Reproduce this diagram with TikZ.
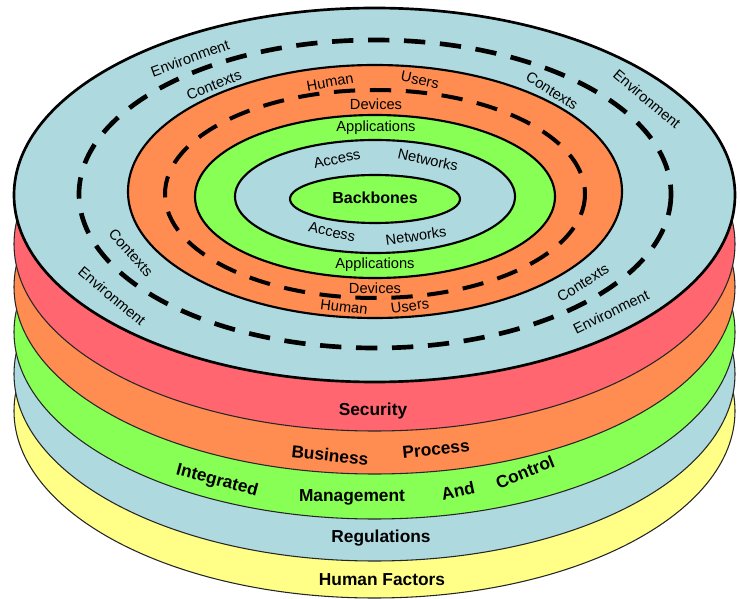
\documentclass[tikz,border=0pt]{standalone}
\usepackage{fontspec}
\setmainfont{Liberation Sans}

\definecolor{layerblue}{RGB}{174,217,222}
\definecolor{layerred}{RGB}{255,102,112}
\definecolor{layerorange}{RGB}{255,140,80}
\definecolor{layergreen}{RGB}{136,255,85}
\definecolor{layeryellow}{RGB}{255,255,136}

\tikzset{
  disc/.style={draw=black!85, line width=0.8pt},
  ring/.style={draw=black, line width=1.6pt},
  dashring/.style={draw=black, line width=3.5pt, dash pattern=on 16pt off 11pt},
  toplabel/.style={font=\fontsize{11}{13}\selectfont, inner sep=0pt},
  layerlabel/.style={font=\bfseries\fontsize{13}{15}\selectfont, inner sep=0pt}
}

\begin{document}
\begin{tikzpicture}[x=0.75pt, y=-0.75pt]
\useasboundingbox (0,0) rectangle (740,599);

\foreach \yc/\col in {411/layeryellow, 374/layerblue, 332/layergreen, 287/layerorange, 244/layerred}
  \draw[disc, fill=\col] (374.5,\yc) ellipse [x radius=360.5, y radius=187];

\draw[ring, line width=2pt, fill=layerblue] (374.5,195) ellipse [x radius=360.5, y radius=187];
\draw[dashring] (375,194) ellipse [x radius=296, y radius=154];
\draw[ring, fill=layerorange] (375,191.5) ellipse [x radius=247, y radius=126.5];
\draw[dashring, line width=3pt] (375,194) ellipse [x radius=210, y radius=104];
\draw[ring, fill=layergreen] (375,196.5) ellipse [x radius=180, y radius=81.5];
\draw[ring, fill=layerblue] (375,196.5) ellipse [x radius=140, y radius=56.5];
\draw[ring, fill=layergreen] (375,199) ellipse [x radius=85, y radius=24];

\node[layerlabel, font=\bfseries\fontsize{12}{14}\selectfont] (backbones) at (375,198) {Backbones};

\begin{scope}[toplabel]
\node[rotate=12] (accessN) at (337,159) {Access};
\node[rotate=-12] (networksN) at (428,160) {Networks};
\node[rotate=-12] (accessS) at (332,232) {Access};
\node[rotate=8] (networksS) at (416,236) {Networks};

\node (appsN) at (376,128) {Applications};
\node (appsS) at (375,265) {Applications};

\node (devicesN) at (376,104) {Devices};
\node (devicesS) at (375,288) {Devices};
\node[rotate=10] (humanN) at (330,82) {Human};
\node[rotate=-12] (usersN) at (420,80) {Users};
\node[rotate=-7] (humanS) at (344,307) {Human};
\node[rotate=8] (usersS) at (410,306) {Users};

\node[rotate=20] (envNW) at (190,58) {Environment};
\node[rotate=22] (ctxNW) at (214,85) {Contexts};
\node[rotate=-32] (ctxNE) at (552,91) {Contexts};
\node[rotate=-40] (envNE) at (647,99) {Environment};
\node[rotate=-48] (ctxSW) at (131,253) {Contexts};
\node[rotate=-40] (envSW) at (112,296) {Environment};
\node[rotate=32] (ctxSE) at (583,283) {Contexts};
\node[rotate=26] (envSE) at (611,312) {Environment};
\end{scope}

\begin{scope}[layerlabel]
\node (security) at (373,411) {Security};
\node[rotate=-6] (business) at (330,455) {Business};
\node[rotate=6] (process) at (436,449) {Process};
\node[rotate=-15] (integrated) at (217,481) {Integrated};
\node (management) at (352,497) {Management};
\node[rotate=12] (and) at (458,491) {And};
\node[rotate=22] (control) at (525,472) {Control};
\node (regulations) at (381,538) {Regulations};
\node (humanfactors) at (382,580) {Human Factors};
\end{scope}
\end{tikzpicture}
\end{document}
